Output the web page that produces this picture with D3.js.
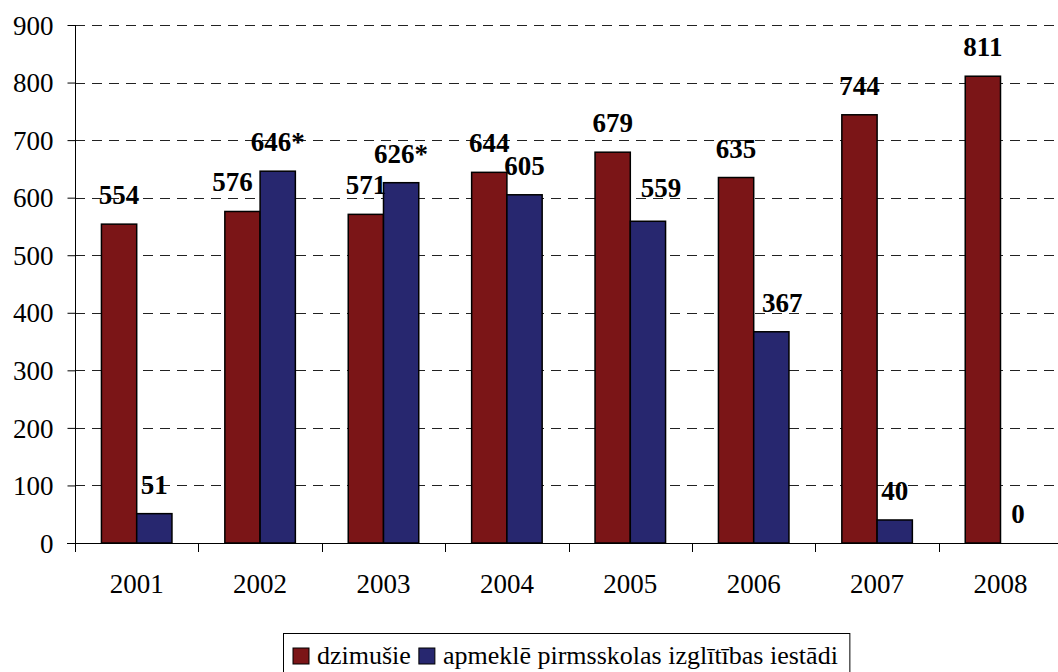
<!DOCTYPE html>
<html>
<head>
<meta charset="utf-8">
<script src="https://cdn.jsdelivr.net/npm/d3@7"></script>
<style>
  body { margin: 0; background: #fff; }
  svg text { font-family: "Liberation Serif", "Times New Roman", serif; fill: #000; }
  .tick-label { font-size: 27px; }
  .val-label { font-size: 27px; font-weight: bold; }
  .legend-label { font-size: 26px; }
</style>
</head>
<body>
<script>
// data
var years = ['2001', '2002', '2003', '2004', '2005', '2006', '2007', '2008'];
var born = [554, 576, 571, 644, 679, 635, 744, 811];
var attending = [51, 646, 626, 605, 559, 367, 40, 0];
var attendingNote = ['', '*', '*', '', '', '', '', ''];
var yTicks = [0, 100, 200, 300, 400, 500, 600, 700, 800, 900];
var seriesNames = ['dzimušie', 'apmeklē pirmsskolas izglītības iestādi'];

// small manual nudges of some value labels, as in the original (dx, dy)
var bornLabelShift = [[0,0],[-10,0],[0,0],[0,0],[0,0],[0,0],[0,0],[0,0]];
var attLabelShift = [[0,0],[0,0],[0,0],[0,0],[13,-4],[11,0],[0,0],[0,0]];

var colors = ['#7b1517', '#27276f'];

var chartW = 1058, chartH = 672;
var plotLeft = 75, plotTop = 25, plotBottom = 543;
var bandW = 123.4;

var svg = d3.select('body').append('svg')
    .attr('width', chartW)
    .attr('height', chartH);

var x = d3.scaleBand()
    .domain(years)
    .range([plotLeft, plotLeft + bandW * years.length])
    .paddingInner(0).paddingOuter(0);

var y = d3.scaleLinear()
    .domain([0, 900])
    .range([plotBottom, plotTop]);

var barW = bandW / 3.5;

// gridlines
svg.append('g').selectAll('line')
    .data(yTicks.filter(function(d) { return d > 0; }))
    .enter().append('line')
    .attr('x1', plotLeft).attr('x2', chartW)
    .attr('y1', function(d) { return Math.round(y(d)) + 0.5; })
    .attr('y2', function(d) { return Math.round(y(d)) + 0.5; })
    .attr('stroke', '#222')
    .attr('stroke-width', 1)
    .attr('stroke-dasharray', '10,7');

// bars
var groups = svg.append('g').selectAll('g')
    .data(years)
    .enter().append('g')
    .attr('transform', function(d) { return 'translate(' + (x(d) + (bandW - 2 * barW) / 2) + ',0)'; });

groups.append('rect')
    .attr('x', 0)
    .attr('y', function(d, i) { return y(born[i]); })
    .attr('width', barW)
    .attr('height', function(d, i) { return y(0) - y(born[i]); })
    .attr('fill', colors[0])
    .attr('stroke', '#000')
    .attr('stroke-width', 1.5);

groups.append('rect')
    .attr('x', barW)
    .attr('y', function(d, i) { return y(attending[i]); })
    .attr('width', barW)
    .attr('height', function(d, i) { return y(0) - y(attending[i]); })
    .attr('fill', colors[1])
    .attr('stroke', '#000')
    .attr('stroke-width', 1.5)
    .style('display', function(d, i) { return attending[i] > 0 ? null : 'none'; });

// value labels
groups.append('text')
    .attr('class', 'val-label')
    .attr('text-anchor', 'middle')
    .attr('x', function(d, i) { return barW / 2 + bornLabelShift[i][0]; })
    .attr('y', function(d, i) { return y(born[i]) - 20 + bornLabelShift[i][1]; })
    .text(function(d, i) { return born[i]; });

groups.append('text')
    .attr('class', 'val-label')
    .attr('text-anchor', 'middle')
    .attr('x', function(d, i) { return barW * 1.5 + attLabelShift[i][0]; })
    .attr('y', function(d, i) { return y(attending[i]) - 20 + attLabelShift[i][1]; })
    .text(function(d, i) { return attending[i] + attendingNote[i]; });

// y axis
var yAxis = svg.append('g')
    .attr('transform', 'translate(' + (plotLeft + 0.5) + ',0)')
    .call(d3.axisLeft(y).tickValues(yTicks).tickSize(8).tickPadding(14));
yAxis.attr('font-family', null).attr('font-size', null);
yAxis.select('.domain').attr('stroke', '#000').attr('d', 'M0,' + plotTop + 'V' + plotBottom);
yAxis.selectAll('.tick line').attr('stroke', '#000');
yAxis.selectAll('.tick text')
    .attr('class', 'tick-label')
    .attr('dy', '0.34em');

// x axis
var xAxis = svg.append('g')
    .attr('transform', 'translate(0,' + (plotBottom + 0.5) + ')')
    .call(d3.axisBottom(x).tickSize(0).tickPadding(30));
xAxis.attr('font-family', null).attr('font-size', null);
xAxis.select('.domain').attr('stroke', '#000').attr('d', 'M' + (plotLeft - 8) + ',0H' + chartW);
xAxis.selectAll('.tick text')
    .attr('class', 'tick-label');

// category separators on x axis
svg.append('g').selectAll('line')
    .data(years)
    .enter().append('line')
    .attr('x1', function(d) { return Math.round(x(d)) + 0.5; })
    .attr('x2', function(d) { return Math.round(x(d)) + 0.5; })
    .attr('y1', plotBottom)
    .attr('y2', plotBottom + 9)
    .attr('stroke', '#000');

// legend
var legend = svg.append('g');
var legendBox = legend.append('rect')
    .attr('x', 283.5).attr('y', 633.5)
    .attr('height', 50)
    .attr('fill', '#fff')
    .attr('stroke', '#000')
    .attr('stroke-width', 1);

var lx = 293;
seriesNames.forEach(function(name, i) {
    legend.append('rect')
        .attr('x', lx).attr('y', 648)
        .attr('width', 16).attr('height', 16)
        .attr('fill', colors[i])
        .attr('stroke', '#000')
        .attr('stroke-width', 1);
    var t = legend.append('text')
        .attr('class', 'legend-label')
        .attr('x', lx + 24)
        .attr('y', 664)
        .text(name);
    lx += 24 + t.node().getComputedTextLength() + 8;
});
legendBox.attr('width', lx + 4 - 283.5);
</script>
</body>
</html>
